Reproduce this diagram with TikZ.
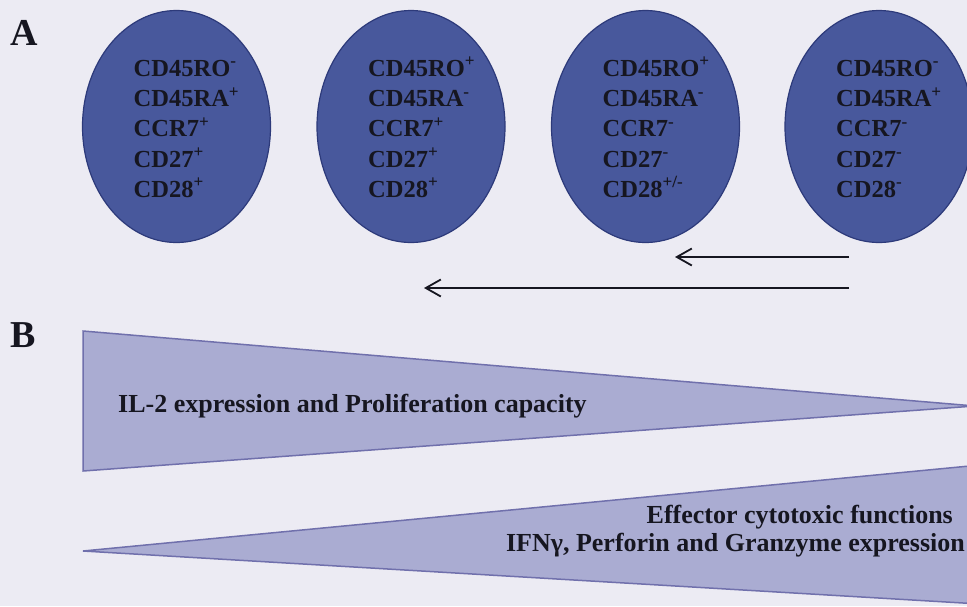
\documentclass[tikz,border=0pt]{standalone}
\usepackage{fontspec}
\setmainfont{Liberation Serif}
\usetikzlibrary{arrows.meta,shapes.geometric}
\definecolor{bgc}{RGB}{236,235,243}
\definecolor{cellfill}{RGB}{72,88,156}
\definecolor{celledge}{RGB}{45,58,122}
\definecolor{trifill}{RGB}{170,172,210}
\definecolor{triedge}{RGB}{112,112,172}
\definecolor{ink}{RGB}{22,22,32}
\tikzset{
  cell/.style={ellipse, draw=celledge, fill=cellfill, line width=1.2pt, minimum width=188pt, minimum height=232pt, inner sep=0pt},
  mark line/.style={anchor=base west, inner sep=0pt, text=ink, font=\fontsize{24.5}{30}\selectfont\bfseries},
  tri/.style={fill=trifill, draw=triedge, line width=1.5pt, line join=miter},
  trilbl/.style={inner sep=0pt, text=ink, font=\fontsize{26}{30}\selectfont\bfseries},
  panel/.style={anchor=base west, inner sep=0pt, text=ink, font=\fontsize{38}{40}\selectfont\bfseries},
  trend/.style={draw=ink, line width=1.8pt, -{Straight Barb[length=15pt, width=17pt, line width=1.8pt]}}
}
\begin{document}
\begin{tikzpicture}[x=1pt, y=-1pt]
\useasboundingbox (0,0) rectangle (967,606);
\clip (0,0) rectangle (967,606);
\fill[bgc] (0,0) rectangle (967,606);
% panel labels
\node[panel] (lA) at (10,45) {A};
\node[panel] (lB) at (10,347) {B};
% cells
\foreach \i/\cx/\a/\b/\c/\d/\e in {
  1/176.5/-/+/+/+/+,
  2/411/+/-/+/+/+,
  3/645.5/+/-/-/-/{+/-},
  4/879/-/+/-/-/-}{
  \node[cell] (e\i) at (\cx,126.5) {};
  \node[mark line] (e\i-1) at (\cx-43,76) {CD45RO\textsuperscript{\a}};
  \node[mark line] (e\i-2) at (\cx-43,106.3) {CD45RA\textsuperscript{\b}};
  \node[mark line] (e\i-3) at (\cx-43,136.6) {CCR7\textsuperscript{\c}};
  \node[mark line] (e\i-4) at (\cx-43,167) {CD27\textsuperscript{\d}};
  \node[mark line] (e\i-5) at (\cx-43,197) {CD28\textsuperscript{\e}};
}
% arrows
\coordinate (a1s) at (849,257);
\coordinate (a1e) at (675,257);
\coordinate (a2s) at (849,288);
\coordinate (a2e) at (424,288);
\draw[trend] (a1s) -- (a1e);
\draw[trend] (a2s) -- (a2e);
% triangles
\draw[tri] (83,331) -- (83,471) -- (975,406) -- cycle;
\draw[tri] (83,551) -- (980,465) -- (980,604) -- cycle;
\node[trilbl, anchor=base west] (il2) at (118,412) {IL-2 expression and Proliferation capacity};
\node[trilbl, anchor=base east] (eff1) at (953,523) {Effector cytotoxic functions};
\node[trilbl, anchor=base east] (eff2) at (965,551) {IFNγ, Perforin and Granzyme expression};
\end{tikzpicture}
\end{document}
